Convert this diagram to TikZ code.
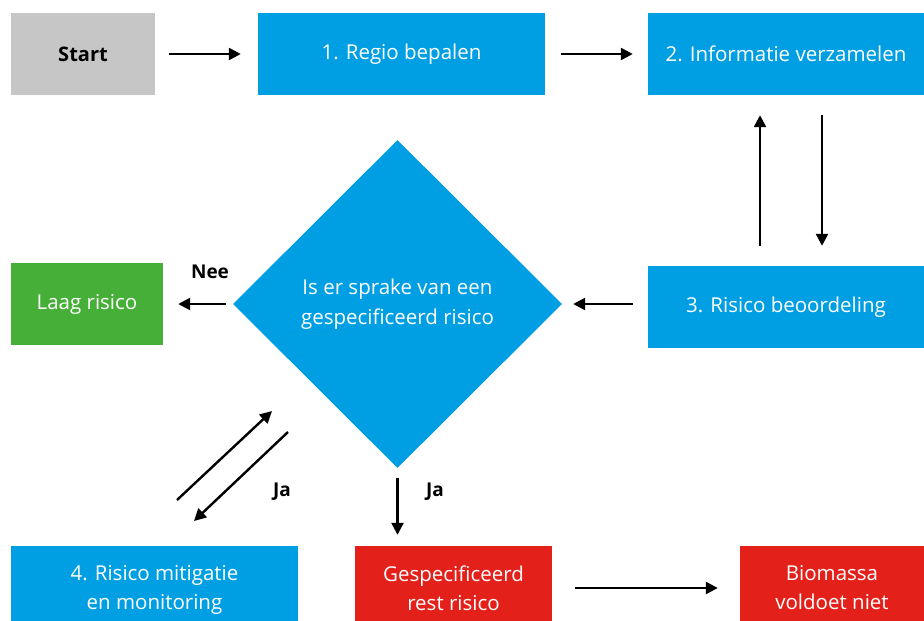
\documentclass[tikz,border=0pt]{standalone}
\usepackage{fontspec}
\setmainfont{Open Sans}
\usetikzlibrary{shapes.geometric,arrows.meta}
\definecolor{rblue}{HTML}{009FE3}
\definecolor{rgreen}{HTML}{46AF37}
\definecolor{rred}{HTML}{E3201A}
\definecolor{rgray}{HTML}{C6C6C6}
\tikzset{
  box/.style={rectangle, inner sep=0pt, align=center, text=white, font=\fontsize{20.5}{29}\selectfont},
  arr/.style={line width=2.4pt, -{Triangle[length=12pt,width=12pt]}},
  lbl/.style={font=\fontsize{19}{22}\selectfont\bfseries, text=black}
}
\begin{document}
\begin{tikzpicture}[x=1pt,y=-1pt]
\useasboundingbox (0,0) rectangle (924,621);
\clip (0,0) rectangle (924,621);
\node[box, fill=rgray, text=black, minimum width=144pt, minimum height=82pt, font=\fontsize{20}{22}\selectfont\bfseries] (start) at (83,54) {Start};
\node[box, fill=rblue, minimum width=287pt, minimum height=82pt] (r1) at (401.5,54) {1. Regio bepalen};
\node[box, fill=rblue, minimum width=276pt, minimum height=82pt] (r2) at (786,54) {2. Informatie verzamelen};
\node[box, fill=rblue, minimum width=276pt, minimum height=82pt] (r3) at (786,307) {3. Risico beoordeling};
\node[box, fill=rgreen, minimum width=152pt, minimum height=82pt] (laag) at (87,304) {Laag risico};
\node[diamond, aspect=1, fill=rblue, inner sep=0pt, minimum width=329pt, minimum height=328pt, text=white, align=center, font=\fontsize{20.5}{30}\selectfont] (dec) at (397.5,304) {Is er sprake van een\\gespecificeerd risico};
\node[box, fill=rblue, minimum width=287pt, minimum height=88pt] (r4) at (154.5,590) {4. Risico mitigatie\\en monitoring};
\node[box, fill=rred, minimum width=197pt, minimum height=84pt] (gesp) at (453.5,588) {Gespecificeerd\\rest risico};
\node[box, fill=rred, minimum width=184pt, minimum height=84pt] (bio) at (832,588) {Biomassa\\voldoet niet};

\draw[arr] ([xshift=14pt]start.east) -- ([xshift=-17pt]r1.west);
\draw[arr] ([xshift=16pt]r1.east) -- ([xshift=-15pt]r2.west);
\draw[arr] ([xshift=-26pt,yshift=20pt]r3.north) -- ([xshift=-26pt,yshift=-20pt]r2.south);
\draw[arr] ([xshift=36pt,yshift=-20pt]r2.south) -- ([xshift=36pt,yshift=20pt]r3.north);
\draw[arr] ([xshift=-15pt]r3.west |- dec.east) -- ([xshift=11pt]dec.east);
\draw[arr] ([xshift=-7pt]dec.west) -- ([xshift=15pt]laag.east |- dec.west);
\draw[arr] ([yshift=-10pt]dec.south) -- ([yshift=11pt]gesp.north -| dec.south);
\draw[arr] ([xshift=23pt]gesp.east) -- ([xshift=-22pt]bio.west |- gesp.east);
\coordinate (d1a) at (177,500);
\coordinate (d1b) at (272,411);
\coordinate (d2a) at (288,432);
\coordinate (d2b) at (194,521);
\draw[arr] (d1a) -- (d1b);
\draw[arr] (d2a) -- (d2b);

\node[lbl] (nee) at (210,272) {Nee};
\node[lbl] (ja1) at (282,492) {Ja};
\node[lbl] (ja2) at (435,492) {Ja};
\end{tikzpicture}
\end{document}
